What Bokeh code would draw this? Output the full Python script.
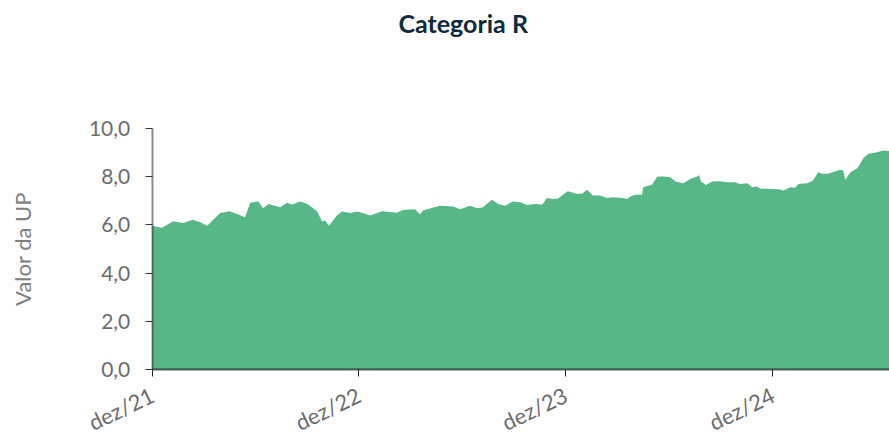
import math
from datetime import datetime
import pandas as pd
from bokeh.plotting import figure
from bokeh.models import Range1d, FixedTicker, CustomJSTickFormatter
from bokeh.embed import file_html
from bokeh.resources import INLINE

# ---- data ----
dates = [
    "2021-12-01", "2021-12-18", "2022-01-07", "2022-01-25", "2022-02-10", "2022-02-24",
    "2022-03-08", "2022-03-31", "2022-04-17", "2022-05-02", "2022-05-14", "2022-05-23",
    "2022-06-06", "2022-06-15", "2022-06-24", "2022-07-15", "2022-07-27", "2022-08-05",
    "2022-08-19", "2022-09-01", "2022-09-11", "2022-09-18", "2022-09-27", "2022-10-02",
    "2022-10-09", "2022-10-23", "2022-11-01", "2022-11-15", "2022-11-29", "2022-12-21",
    "2023-01-11", "2023-02-06", "2023-02-17", "2023-03-10", "2023-03-19", "2023-03-24",
    "2023-04-23", "2023-05-16", "2023-05-29", "2023-06-15", "2023-06-28", "2023-07-08",
    "2023-07-24", "2023-08-04", "2023-08-16", "2023-08-30", "2023-09-12", "2023-09-24",
    "2023-10-08", "2023-10-21", "2023-10-29", "2023-11-09", "2023-11-18", "2023-11-30",
    "2023-12-05", "2023-12-21", "2023-12-30", "2024-01-08", "2024-01-18", "2024-01-31",
    "2024-02-12", "2024-02-23", "2024-03-10", "2024-03-19", "2024-03-24", "2024-04-02",
    "2024-04-14", "2024-04-16", "2024-05-02", "2024-05-11", "2024-05-21", "2024-06-03",
    "2024-06-12", "2024-06-26", "2024-07-08", "2024-07-20", "2024-07-24", "2024-07-27",
    "2024-08-05", "2024-08-16", "2024-08-30", "2024-09-11", "2024-09-25", "2024-10-04",
    "2024-10-17", "2024-10-26", "2024-11-03", "2024-11-09", "2024-11-26", "2024-12-14",
    "2024-12-19", "2025-01-01", "2025-01-09", "2025-01-15", "2025-01-31", "2025-02-10",
    "2025-02-19", "2025-02-26", "2025-03-09", "2025-03-16", "2025-03-30", "2025-04-04",
    "2025-04-08", "2025-04-17", "2025-04-29", "2025-05-04", "2025-05-10", "2025-05-19",
    "2025-06-03", "2025-06-14", "2025-06-25",
]
values = [
    5.97, 5.88, 6.15, 6.08, 6.21, 6.11,
    5.96, 6.49, 6.57, 6.43, 6.32, 6.92,
    6.98, 6.69, 6.87, 6.73, 6.92, 6.85,
    6.97, 6.87, 6.69, 6.57, 6.14, 6.18,
    5.97, 6.39, 6.56, 6.49, 6.56, 6.39,
    6.57, 6.50, 6.62, 6.65, 6.43, 6.60,
    6.80, 6.76, 6.65, 6.80, 6.69, 6.73,
    7.04, 6.87, 6.80, 6.97, 6.94, 6.83,
    6.87, 6.85, 7.12, 7.08, 7.10, 7.32,
    7.40, 7.29, 7.29, 7.46, 7.22, 7.22,
    7.12, 7.15, 7.12, 7.08, 7.18, 7.25,
    7.25, 7.56, 7.68, 8.01, 8.01, 7.98,
    7.80, 7.73, 7.91, 8.01, 8.06, 7.80,
    7.66, 7.80, 7.81, 7.77, 7.77, 7.70,
    7.73, 7.56, 7.59, 7.50, 7.50, 7.47,
    7.43, 7.56, 7.54, 7.70, 7.73, 7.84,
    8.19, 8.12, 8.12, 8.19, 8.29, 8.26,
    7.87, 8.19, 8.35, 8.53, 8.78, 8.95,
    9.02, 9.09, 9.07,
]
x_tick_dates = ["2021-12-01", "2022-12-01", "2023-12-01", "2024-12-01"]
y_ticks = [0, 2, 4, 6, 8, 10]
title_text = "Categoria R"
y_label = "Valor da UP"

x = pd.to_datetime(dates)
x_ticks_ms = [int(t.value // 10**6) for t in pd.to_datetime(x_tick_dates)]
x_first_ms = int(pd.Timestamp(dates[0]).value // 10**6)
x_last_ms = int(pd.Timestamp(dates[-1]).value // 10**6)

FONT = "Lato"

# The frame covers the whole canvas below the title; both axes are pinned
# inside it so that their rotated labels are laid out exactly as wanted.
p = figure(
    width=889, height=435,
    x_axis_type="datetime",
    x_range=Range1d(datetime(2021, 3, 8), datetime(2025, 6, 25)),
    y_range=Range1d(-2.74, 13.57),
    output_backend="svg", toolbar_location=None,
    min_border_left=0, min_border_right=0, min_border_bottom=0, min_border_top=42,
    background_fill_color="white", border_fill_color="white",
)
p.outline_line_color = None
p.xgrid.visible = False
p.ygrid.visible = False

p.varea(x=x, y1=0, y2=values, fill_color="#57b787", fill_alpha=1.0)

# title
p.title.text = title_text
p.title.text_font = FONT
p.title.text_font_style = "bold"
p.title.text_font_size = "25px"
p.title.text_color = "#0e2a3b"
p.title.align = "left"
p.title.offset = 398

# y axis
ya = p.yaxis[0]
ya.fixed_location = x_first_ms
ya.ticker = FixedTicker(ticks=y_ticks)
ya.formatter = CustomJSTickFormatter(code="return tick.toFixed(1).replace('.', ',');")
ya.bounds = (0, 10)
ya.axis_line_color = "black"
ya.axis_line_alpha = 0.45
ya.axis_line_width = 2
ya.major_tick_line_color = "#333333"
ya.major_tick_out = 7
ya.major_tick_in = 0
ya.minor_tick_line_color = None
ya.major_label_text_font = FONT
ya.major_label_text_font_size = "21px"
ya.major_label_text_color = "#6d6d6d"
ya.major_label_standoff = 15
ya.axis_label = y_label
ya.axis_label_text_font = FONT
ya.axis_label_text_font_style = "normal"
ya.axis_label_text_font_size = "22px"
ya.axis_label_text_color = "#7f7f7f"
ya.axis_label_standoff = 50

# x axis
xa = p.xaxis[0]
xa.fixed_location = 0
xa.bounds = (x_first_ms, x_last_ms)
xa.ticker = FixedTicker(ticks=x_ticks_ms)
xa.formatter = CustomJSTickFormatter(code="""
const m = ["jan","fev","mar","abr","mai","jun","jul","ago","set","out","nov","dez"];
const d = new Date(tick);
return m[d.getUTCMonth()] + "/" + String(d.getUTCFullYear()).slice(2);
""")
xa.axis_line_color = "black"
xa.axis_line_alpha = 0.6
xa.axis_line_width = 2
xa.major_tick_line_color = "#222222"
xa.major_tick_out = 7
xa.major_tick_in = 0
xa.minor_tick_line_color = None
xa.major_label_text_font = FONT
xa.major_label_text_font_size = "22px"
xa.major_label_text_color = "#6d6d6d"
xa.major_label_orientation = 0.45
xa.major_label_standoff = 17

open("out.html", "w").write(file_html(p, INLINE))
